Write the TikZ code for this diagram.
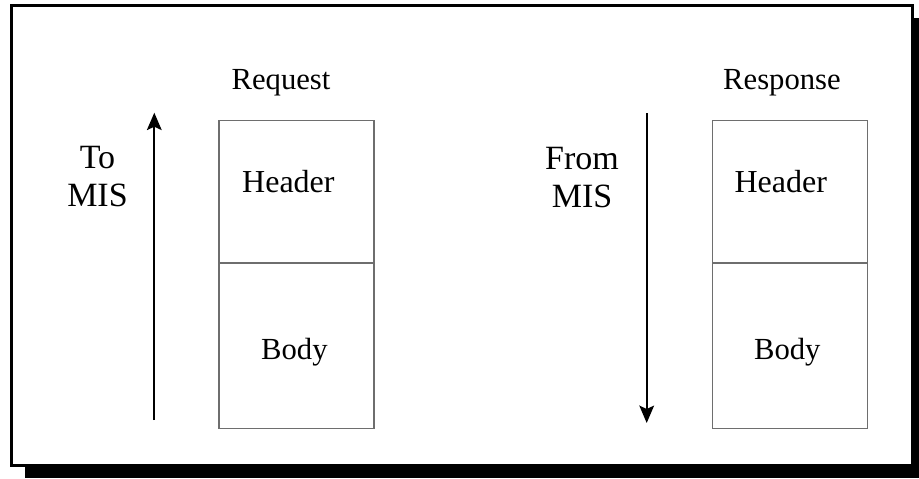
\documentclass[tikz,border=0pt]{standalone}
\usepackage{fontspec}
\setmainfont{Liberation Serif}
\usetikzlibrary{arrows.meta,positioning,calc}
\definecolor{BoxLine}{HTML}{6E6E6E}

\tikzset{
  part/.style={draw=BoxLine,line width=0.9pt,fill=white,minimum width=116.25pt,inner sep=0pt},
  txt/.style={font=\fontsize{23}{28.5}\selectfont,inner sep=0pt},
  side/.style={font=\fontsize{25.5}{28.5}\selectfont,inner sep=0pt,align=center},
  flow/.style={line width=1.6pt,-{Stealth[length=13pt,width=11pt,inset=2.5pt]}}
}

\begin{document}
\begin{tikzpicture}[x=0.75pt,y=0.75pt]
        \useasboundingbox (0,0) rectangle (919,478);
        \clip (0,0) rectangle (919,478);
        % frame with shadow
        \fill[black] (24.5,459.7) rectangle (935,0);
        \draw[line width=2.25pt,fill=white] (11.5,472.7) rectangle (912,13);
        % request side
        \node[part,anchor=north west,minimum height=106.5pt] (reqhead) at (218.3,358) {};
        \node[part,below=0pt of reqhead,minimum height=123.75pt] (reqbody) {};
        \node[txt,anchor=base,font=\fontsize{24}{28.5}\selectfont] (reqhtxt) at ($(reqhead.center)+(-8,-1)$) {Header};
        \node[txt,anchor=base] (reqbtxt) at ($(reqbody.center)+(-2,-13.5)$) {Body};
        \node[txt,anchor=base] (reqtitle) at (281,388) {Request};
        \coordinate (upfoot) at (154.3,58);
        \coordinate (uptip) at (154.3,365.3);
        \draw[flow] (upfoot) -- (uptip);
        \node[side] (tomis) at (97.5,301) {To\\MIS};
        % response side
        \node[part,anchor=north west,minimum height=106.5pt] (resphead) at (711.7,358) {};
        \node[part,below=0pt of resphead,minimum height=123.75pt] (respbody) {};
        \node[txt,anchor=base,font=\fontsize{24}{28.5}\selectfont] (resphtxt) at ($(resphead.center)+(-9,-1)$) {Header};
        \node[txt,anchor=base] (respbtxt) at ($(respbody.center)+(-2.5,-13.5)$) {Body};
        \node[txt,anchor=base] (resptitle) at (782,388) {Response};
        \coordinate (downtop) at (646.7,364.7);
        \coordinate (downtip) at (646.7,55);
        \draw[flow] (downtop) -- (downtip);
        \node[side] (frommis) at (582,300) {From\\MIS};
      \end{tikzpicture}
\end{document}
